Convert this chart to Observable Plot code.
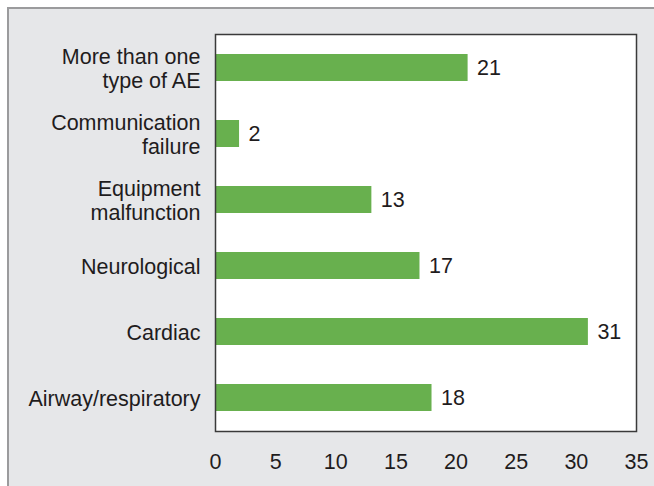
<!DOCTYPE html>
<html>
<head>
<meta charset="utf-8">
<script src="https://cdn.jsdelivr.net/npm/d3@7"></script>
<script src="https://cdn.jsdelivr.net/npm/@observablehq/plot@0.6"></script>
<style>
  html, body { margin: 0; padding: 0; background: #ffffff; }
  #wrap { position: relative; width: 654px; height: 486px; overflow: hidden; }
  #bg { position: absolute; left: 7px; top: 7px; width: 700px; height: 520px;
        background: #e6e7e9; border-left: 2px solid #9b9b9d; border-top: 2px solid #9b9b9d; }
  #chart { position: absolute; left: 0; top: 0; }
  #chart svg { background: transparent !important; }
</style>
</head>
<body>
<div id="wrap"><div id="bg"></div><div id="chart"></div></div>
<script>
const categories = [
  "More than one\ntype of AE",
  "Communication\nfailure",
  "Equipment\nmalfunction",
  "Neurological",
  "Cardiac",
  "Airway/respiratory"
];
const values = [21, 2, 13, 17, 31, 18];
const xTicks = [0, 5, 10, 15, 20, 25, 30, 35];

const data = categories.map((c, i) => ({category: c, value: values[i]}));
const textColor = "#1f1c1d";
const font = "'Liberation Sans', Arial, Helvetica, sans-serif";

const chart = Plot.plot({
  width: 654,
  height: 486,
  marginLeft: 215,
  marginRight: 18,
  marginTop: 34,
  marginBottom: 55,
  style: {fontFamily: font, fontSize: "21.5px", color: textColor, background: "transparent"},
  x: {domain: [0, 35], ticks: xTicks, label: null},
  y: {domain: categories, paddingInner: 0.59, paddingOuter: 0.295, label: null},
  marks: [
    Plot.frame({fill: "white", stroke: null}),
    Plot.barX(data, {x: "value", y: "category", fill: "#68b04e"}),
    Plot.text(data, {x: "value", y: "category", text: d => String(d.value), dx: 9, textAnchor: "start", fontSize: 21.5, fill: textColor}),
    Plot.axisX({ticks: xTicks, tickSize: 0, tickPadding: 22, fontSize: 21.5, fill: textColor, label: null}),
    Plot.axisY({tickSize: 0, tickPadding: 15, fontSize: 21.5, lineHeight: 1.12, fill: textColor, label: null}),
    Plot.frame({stroke: "#3a3a3a", strokeWidth: 1.5})
  ]
});
document.getElementById("chart").appendChild(chart);
</script>
</body>
</html>
